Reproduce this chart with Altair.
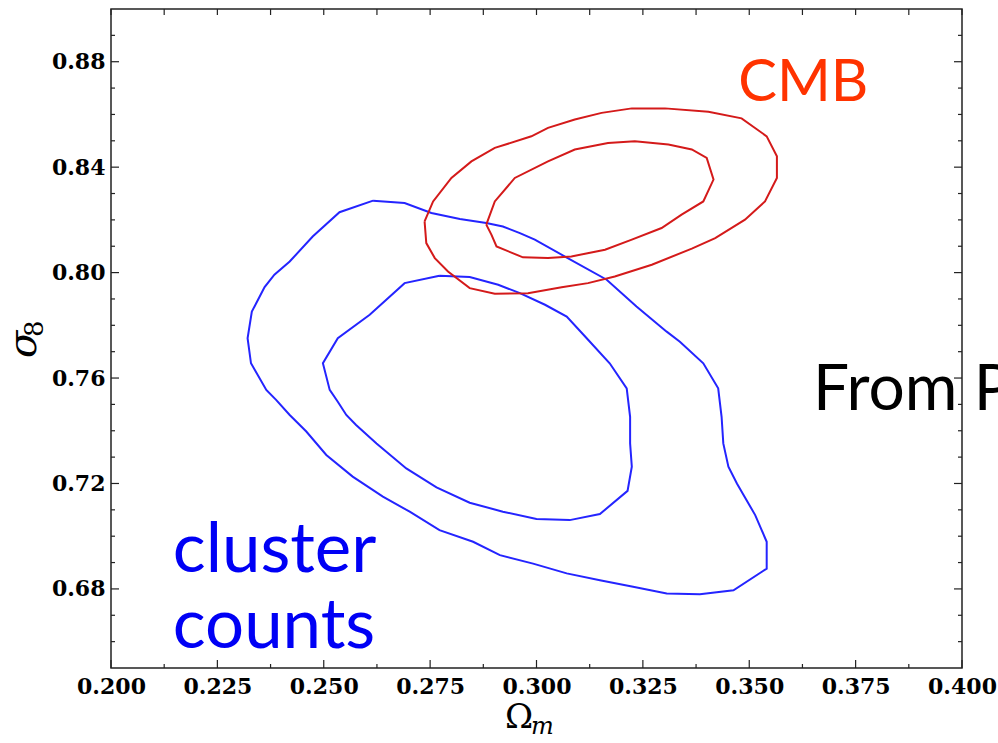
import altair as alt
import pandas as pd

# ---------------- data ----------------
# cluster counts (blue), outer contour
blue_outer_x = [0.2616, 0.2690, 0.2753, 0.2820, 0.2882, 0.2921, 0.2961, 0.2996, 0.3067, 0.3165,
                0.3235, 0.3306, 0.3337, 0.3392, 0.3427, 0.3435, 0.3439, 0.3451, 0.3471, 0.3514,
                0.3541, 0.3541, 0.3463, 0.3384, 0.3306, 0.3227, 0.3149, 0.3071, 0.2992, 0.2914,
                0.2851, 0.2772, 0.2702, 0.2639, 0.2568, 0.2506, 0.2459, 0.2420, 0.2388, 0.2365,
                0.2329, 0.2321, 0.2331, 0.2361, 0.2384, 0.2420, 0.2474, 0.2537, 0.2616]
blue_outer_y = [0.8273, 0.8264, 0.8226, 0.8203, 0.8188, 0.8175, 0.8150, 0.8125, 0.8061, 0.7973,
                0.7871, 0.7776, 0.7738, 0.7656, 0.7561, 0.7453, 0.7352, 0.7264, 0.7200, 0.7080,
                0.6979, 0.6877, 0.6795, 0.6780, 0.6783, 0.6808, 0.6833, 0.6859, 0.6896, 0.6928,
                0.6979, 0.7023, 0.7093, 0.7150, 0.7226, 0.7308, 0.7397, 0.7460, 0.7517, 0.7555,
                0.7656, 0.7751, 0.7852, 0.7945, 0.7992, 0.8042, 0.8137, 0.8229, 0.8273]
# cluster counts (blue), inner contour
blue_inner_x = [0.2772, 0.2843, 0.2910, 0.2961, 0.3020, 0.3071, 0.3118, 0.3172, 0.3212, 0.3220,
                0.3220, 0.3224, 0.3214, 0.3149, 0.3078, 0.3000, 0.2921, 0.2843, 0.2765, 0.2694,
                0.2624, 0.2576, 0.2553, 0.2533, 0.2514, 0.2498, 0.2533, 0.2608, 0.2690, 0.2772]
blue_inner_y = [0.7988, 0.7983, 0.7954, 0.7922, 0.7878, 0.7833, 0.7751, 0.7656, 0.7561, 0.7453,
                0.7352, 0.7264, 0.7172, 0.7084, 0.7061, 0.7065, 0.7093, 0.7127, 0.7185, 0.7257,
                0.7352, 0.7422, 0.7460, 0.7510, 0.7555, 0.7656, 0.7751, 0.7840, 0.7960, 0.7988]
# CMB (red), outer contour
red_outer_x = [0.2737, 0.2757, 0.2800, 0.2847, 0.2902, 0.2988, 0.3027, 0.3090, 0.3153, 0.3224,
               0.3302, 0.3404, 0.3482, 0.3541, 0.3565, 0.3565, 0.3537, 0.3490, 0.3420, 0.3365,
               0.3271, 0.3184, 0.3121, 0.3059, 0.2980, 0.2902, 0.2843, 0.2792, 0.2761, 0.2741,
               0.2737]
red_outer_y = [0.8194, 0.8270, 0.8359, 0.8422, 0.8473, 0.8517, 0.8549, 0.8581, 0.8606, 0.8623,
               0.8623, 0.8610, 0.8585, 0.8517, 0.8441, 0.8359, 0.8270, 0.8201, 0.8131, 0.8091,
               0.8030, 0.7985, 0.7960, 0.7944, 0.7922, 0.7920, 0.7941, 0.8004, 0.8055, 0.8112,
               0.8194]
# CMB (red), inner contour
red_inner_x = [0.2882, 0.2902, 0.2949, 0.3027, 0.3090, 0.3168, 0.3231, 0.3310, 0.3365, 0.3400,
               0.3416, 0.3392, 0.3341, 0.3294, 0.3224, 0.3161, 0.3082, 0.3027, 0.2968, 0.2906,
               0.2894, 0.2882]
red_inner_y = [0.8182, 0.8270, 0.8359, 0.8422, 0.8467, 0.8492, 0.8498, 0.8486, 0.8467, 0.8435,
               0.8353, 0.8270, 0.8220, 0.8169, 0.8125, 0.8087, 0.8061, 0.8055, 0.8058, 0.8099,
               0.8144, 0.8182]

# axis ticks
x_major = [0.200, 0.225, 0.250, 0.275, 0.300, 0.325, 0.350, 0.375, 0.400]
x_minor = [0.2125, 0.2375, 0.2625, 0.2875, 0.3125, 0.3375, 0.3625, 0.3875]
y_major = [0.68, 0.72, 0.76, 0.80, 0.84, 0.88]
y_minor = [0.66, 0.67, 0.69, 0.70, 0.71, 0.73, 0.74, 0.75, 0.77, 0.78, 0.79,
           0.81, 0.82, 0.83, 0.85, 0.86, 0.87, 0.89]

# annotations
cmb_label = ["CMB"]
cmb_pos = [0.3474, 0.8650]
cluster_labels = ["cluster", "counts"]
cluster_pos_x = [0.2145, 0.2145]
cluster_pos_y = [0.6863, 0.6575]
source_label = ["From Planck"]
source_pos = [0.3650, 0.7479]

# ---------------- build ----------------
rows = []
for name, grp, xs, ys in [("blue_outer", "cluster", blue_outer_x, blue_outer_y),
                          ("blue_inner", "cluster", blue_inner_x, blue_inner_y),
                          ("red_outer", "CMB", red_outer_x, red_outer_y),
                          ("red_inner", "CMB", red_inner_x, red_inner_y)]:
    for i, (a, b) in enumerate(zip(xs, ys)):
        rows.append({"contour": name, "set": grp, "i": i, "x": a, "y": b})
df = pd.DataFrame(rows)

W, H = 851, 659
FONT_AX = "DejaVu Serif"

xscale = alt.Scale(domain=[0.2, 0.4], nice=False, zero=False)
yscale = alt.Scale(domain=[0.65, 0.90], nice=False, zero=False)

xaxis = alt.Axis(values=x_major, format=".3f", title=None, ticks=False, domain=False, grid=False,
                 labelFont=FONT_AX, labelFontWeight="bold", labelFontSize=22, labelPadding=8,
                 labelFlush=False, labelOverlap=False, labelColor="black")
yaxis = alt.Axis(values=y_major, format=".2f", title=None, ticks=False, domain=False, grid=False,
                 labelFont=FONT_AX, labelFontWeight="bold", labelFontSize=22, labelPadding=6,
                 labelFlush=False, labelOverlap=False, labelColor="black")

lines = alt.Chart(df).mark_line(strokeWidth=2).encode(
    x=alt.X("x:Q", scale=xscale, axis=xaxis),
    y=alt.Y("y:Q", scale=yscale, axis=yaxis),
    detail="contour:N",
    order=alt.Order("i:Q"),
    color=alt.Color("set:N", scale=alt.Scale(domain=["cluster", "CMB"], range=["#2424ff", "#d41a1a"]),
                    legend=None),
)

TC = "#222222"
xmaj = pd.DataFrame({"v": x_major})
xmin = pd.DataFrame({"v": x_minor})
ymaj = pd.DataFrame({"v": y_major})
ymin = pd.DataFrame({"v": y_minor})

def xt(d, y0, y1):
    return alt.Chart(d).mark_rule(color=TC, strokeWidth=1.2).encode(
        x=alt.X("v:Q", scale=xscale), y=alt.value(y0), y2=alt.value(y1))

def yt(d, x0, x1):
    return alt.Chart(d).mark_rule(color=TC, strokeWidth=1.2).encode(
        y=alt.Y("v:Q", scale=yscale), x=alt.value(x0), x2=alt.value(x1))

ticks = [
    xt(xmaj, H, H - 8), xt(xmin, H, H - 4),
    xt(xmaj, 0, 6), xt(xmin, 0, 6),
    yt(ymaj, 0, 8), yt(ymin, 0, 4),
    yt(ymaj, W, W - 8), yt(ymin, W, W - 4),
]

cmb = alt.Chart(pd.DataFrame({"t": cmb_label, "x": [cmb_pos[0]], "y": [cmb_pos[1]]})).mark_text(
    font="Lato", fontSize=58, color="#ff3300", align="left", baseline="alphabetic"
).encode(x=alt.X("x:Q", scale=xscale), y=alt.Y("y:Q", scale=yscale), text="t:N")

cluster = alt.Chart(pd.DataFrame({"t": cluster_labels, "x": cluster_pos_x, "y": cluster_pos_y})).mark_text(
    font="Lato", fontSize=69, color="#0000f5", align="left", baseline="alphabetic"
).encode(x=alt.X("x:Q", scale=xscale), y=alt.Y("y:Q", scale=yscale), text="t:N")

source = alt.Chart(pd.DataFrame({"t": source_label, "x": [source_pos[0]], "y": [source_pos[1]]})).mark_text(
    font="Lato", fontSize=64, color="black", align="left", baseline="alphabetic"
).encode(x=alt.X("x:Q", scale=xscale), y=alt.Y("y:Q", scale=yscale), text="t:N")

# axis titles built from text pieces (symbol + subscript)
def txt(s, px, py, size, style="normal", angle=0):
    kw = dict(font=FONT_AX, fontSize=size, fontStyle=style, color="black",
              align="left", baseline="alphabetic")
    if angle:
        kw["angle"] = angle
    return alt.Chart(pd.DataFrame({"t": [s]})).mark_text(**kw).encode(
        text="t:N", x=alt.value(px), y=alt.value(py))

titles = [
    txt("Ω", 394, 719, 34),
    txt("m", 420, 725, 24, "italic"),
    txt("σ", -75, 349, 40, "italic", 270),
    txt("8", -68, 328, 26, "normal", 270),
]

chart = alt.layer(lines, *ticks, cmb, cluster, source, *titles).properties(
    width=W, height=H,
    padding={"left": 111, "top": 9, "right": 36, "bottom": 69},
    autosize=alt.AutoSizeParams(type="none"),
    background="white",
).configure_view(stroke=TC, strokeWidth=1.5)

chart.save("out.html", embed_options={"renderer": "svg", "actions": False})
